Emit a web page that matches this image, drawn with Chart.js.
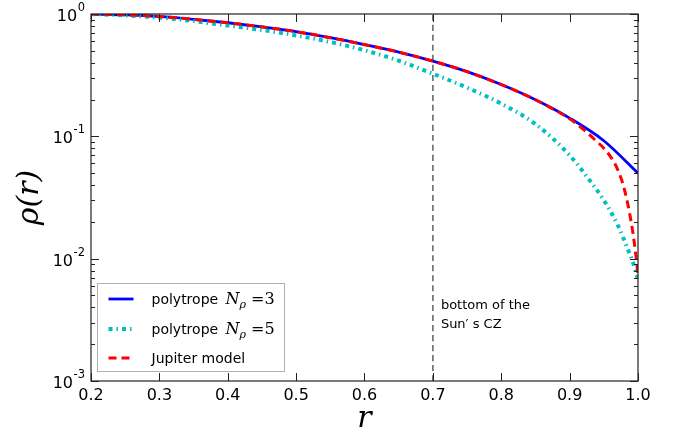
<!DOCTYPE html>
<html>
<head>
<meta charset="utf-8">
<script src="https://cdn.jsdelivr.net/npm/chart.js@4.4.1/dist/chart.umd.min.js"></script>
<style>
  html, body { margin: 0; padding: 0; background: #fff; }
</style>
</head>
<body>
<canvas id="myChart" width="679" height="437"></canvas>
<script>
  'use strict'

  // polytrope N_rho = 3
  const rPoly3 = [0.2, 0.25, 0.3, 0.35, 0.4, 0.45, 0.5, 0.55, 0.6, 0.65, 0.7, 0.75, 0.8, 0.85, 0.9, 0.95, 1.0]
  const rhoPoly3 = [1.0, 0.985, 0.955, 0.905, 0.848, 0.785, 0.718, 0.64, 0.562, 0.488, 0.412, 0.338, 0.265, 0.199, 0.141, 0.092, 0.050]

  // polytrope N_rho = 5
  const rPoly5 = [0.2, 0.25, 0.3, 0.35, 0.4, 0.45, 0.5, 0.55, 0.6, 0.65, 0.7, 0.75, 0.8, 0.85, 0.9, 0.925, 0.95, 0.97, 0.985, 0.993, 1.0]
  const rhoPoly5 = [1.0, 0.975, 0.935, 0.875, 0.805, 0.74, 0.668, 0.59, 0.505, 0.415, 0.325, 0.25, 0.185, 0.126, 0.070, 0.047, 0.030, 0.019, 0.012, 0.0092, 0.0068]

  // Jupiter model
  const rJupiter = [0.2, 0.25, 0.3, 0.35, 0.4, 0.45, 0.5, 0.55, 0.6, 0.65, 0.7, 0.75, 0.8, 0.85, 0.9, 0.92, 0.935, 0.95, 0.96, 0.97, 0.98, 0.99, 0.995, 1.0]
  const rhoJupiter = [1.0, 0.985, 0.955, 0.905, 0.848, 0.785, 0.718, 0.64, 0.562, 0.488, 0.412, 0.338, 0.265, 0.199, 0.139, 0.114, 0.096, 0.080, 0.068, 0.054, 0.037, 0.020, 0.013, 0.0075]

  // base of the solar convection zone
  const rSunCZ = 0.7

  const xTicks = [0.2, 0.3, 0.4, 0.5, 0.6, 0.7, 0.8, 0.9, 1.0]
  const yDecades = [0.001, 0.01, 0.1, 1]
  const yExponents = ['-3', '-2', '-1', '0']

  const toPoints = (xs, ys) => xs.map((x, i) => ({ x: x, y: ys[i] }))

  const sans = '"DejaVu Sans", sans-serif'
  const serif = '"DejaVu Serif", serif'

  const isDecade = v => Math.abs(Math.log10(v) - Math.round(Math.log10(v))) < 1e-9

  const series = [
    { label: 'polytrope N_ρ=3', color: '#0000ff', width: 2.8, dash: [] },
    { label: 'polytrope N_ρ=5', color: '#00bfbf', width: 4, dash: [4, 4, 1.5, 4] },
    { label: 'Jupiter model', color: '#ff0000', width: 3, dash: [8, 5] }
  ]

  const decor = {
    id: 'decor',
    afterDatasetsDraw(chart) {
      const { ctx, chartArea: a, scales: { x, y } } = chart
      ctx.save()

      // frame
      ctx.strokeStyle = '#222'
      ctx.lineWidth = 1.2
      ctx.setLineDash([])
      ctx.strokeRect(a.left, a.top, a.right - a.left, a.bottom - a.top)

      // inward ticks
      ctx.lineWidth = 1
      ctx.beginPath()
      y.ticks.forEach(t => {
        const py = Math.round(y.getPixelForValue(t.value)) + 0.5
        const len = isDecade(t.value) ? 8 : 4
        ctx.moveTo(a.left, py); ctx.lineTo(a.left + len, py)
        ctx.moveTo(a.right, py); ctx.lineTo(a.right - len, py)
      })
      xTicks.forEach(v => {
        const px = Math.round(x.getPixelForValue(v)) + 0.5
        ctx.moveTo(px, a.bottom); ctx.lineTo(px, a.bottom - 8)
        ctx.moveTo(px, a.top); ctx.lineTo(px, a.top + 8)
      })
      ctx.stroke()

      // y decade labels, 10 with a raised exponent
      ctx.fillStyle = '#000'
      ctx.textBaseline = 'alphabetic'
      yDecades.forEach((d, i) => {
        const py = y.getPixelForValue(d)
        const right = a.left - 6
        ctx.font = '11.5px ' + sans
        const ew = ctx.measureText(yExponents[i]).width
        ctx.fillText(yExponents[i], right - ew, py - 3)
        ctx.font = '16px ' + sans
        const bw = ctx.measureText('10').width
        ctx.fillText('10', right - ew - bw - 0.5, py + 7)
      })

      // annotation
      const ax = x.getPixelForValue(rSunCZ) + 8
      ctx.font = '13px ' + sans
      ctx.fillText('bottom of the', ax, 309)
      ctx.fillText('Sun′ s CZ', ax, 328)

      // legend
      const bx = a.left + 6.5, by = 283.5, bw = 187, bh = 88
      ctx.fillStyle = '#fff'
      ctx.fillRect(bx, by, bw, bh)
      ctx.strokeStyle = '#b0b0b0'
      ctx.strokeRect(bx, by, bw, bh)
      const rows = [299, 329, 358]
      series.forEach((s, i) => {
        const ry = rows[i]
        ctx.strokeStyle = s.color
        ctx.lineWidth = s.width
        ctx.setLineDash(s.dash)
        ctx.beginPath()
        ctx.moveTo(bx + 11, ry); ctx.lineTo(bx + 36, ry)
        ctx.stroke()
        ctx.setLineDash([])
        ctx.fillStyle = '#000'
        let tx = bx + 54
        const base = ry + 5
        if (i < 2) {
          ctx.font = '14px ' + sans
          ctx.fillText('polytrope ', tx, base)
          tx += ctx.measureText('polytrope ').width + 3
          ctx.font = 'italic 16px ' + serif
          ctx.fillText('N', tx, base)
          tx += ctx.measureText('N').width
          ctx.font = 'italic 11px ' + serif
          ctx.fillText('ρ', tx, base + 4)
          tx += ctx.measureText('ρ').width + 5
          ctx.font = '16px ' + serif
          ctx.fillText('=' + (i === 0 ? '3' : '5'), tx, base)
        } else {
          ctx.font = '14px ' + sans
          ctx.fillText(s.label, tx, base)
        }
      })
      ctx.restore()
    }
  }

  const ctx = document.getElementById('myChart')
  // eslint-disable-next-line no-unused-vars
  const myChart = new Chart(ctx, {
    type: 'line',
    data: {
      datasets: [
        {
          data: toPoints(rPoly3, rhoPoly3),
          borderColor: series[0].color,
          borderWidth: series[0].width,
          order: 2
        },
        {
          data: toPoints(rPoly5, rhoPoly5),
          borderColor: series[1].color,
          borderWidth: series[1].width,
          borderDash: series[1].dash,
          order: 1
        },
        {
          data: toPoints(rJupiter, rhoJupiter),
          borderColor: series[2].color,
          borderWidth: series[2].width,
          borderDash: series[2].dash,
          order: 0
        },
        {
          data: [{ x: rSunCZ, y: 0.001 }, { x: rSunCZ, y: 1 }],
          borderColor: '#606060',
          borderWidth: 1.5,
          borderDash: [6, 4],
          order: 3
        }
      ]
    },
    options: {
      responsive: false,
      animation: false,
      layout: { padding: { left: 0, right: 41, top: 14, bottom: 0 } },
      elements: {
        point: { radius: 0 },
        line: { cubicInterpolationMode: 'monotone', fill: false }
      },
      scales: {
        x: {
          type: 'linear',
          min: 0.2,
          max: 1.0,
          grid: { display: false, drawTicks: false },
          border: { display: false },
          afterBuildTicks: scale => { scale.ticks = xTicks.map(v => ({ value: v })) },
          afterFit: scale => { scale.height = 56 },
          ticks: {
            color: '#000',
            font: { family: sans, size: 16 },
            padding: 5,
            maxRotation: 0,
            autoSkip: false,
            callback: v => v.toFixed(1)
          },
          title: {
            display: true,
            text: 'r',
            color: '#000',
            font: { family: serif, style: 'italic', size: 30 },
            padding: { top: 0, bottom: 0 }
          }
        },
        y: {
          type: 'logarithmic',
          min: 0.001,
          max: 1,
          grid: { display: false, drawTicks: false },
          border: { display: false },
          afterBuildTicks: scale => {
            const ticks = []
            yDecades.forEach((d, i) => {
              ticks.push({ value: d })
              if (i < yDecades.length - 1) {
                for (let k = 2; k <= 9; k++) ticks.push({ value: d * k })
              }
            })
            scale.ticks = ticks
          },
          afterFit: scale => { scale.width = 91 },
          ticks: { display: false },
          title: {
            display: true,
            text: 'ρ(r)',
            color: '#000',
            font: { family: serif, style: 'italic', size: 30 },
            padding: { top: 12, bottom: 0 }
          }
        }
      },
      plugins: {
        legend: { display: false },
        tooltip: { enabled: false }
      }
    },
    plugins: [decor]
  })
</script>
</body>
</html>
